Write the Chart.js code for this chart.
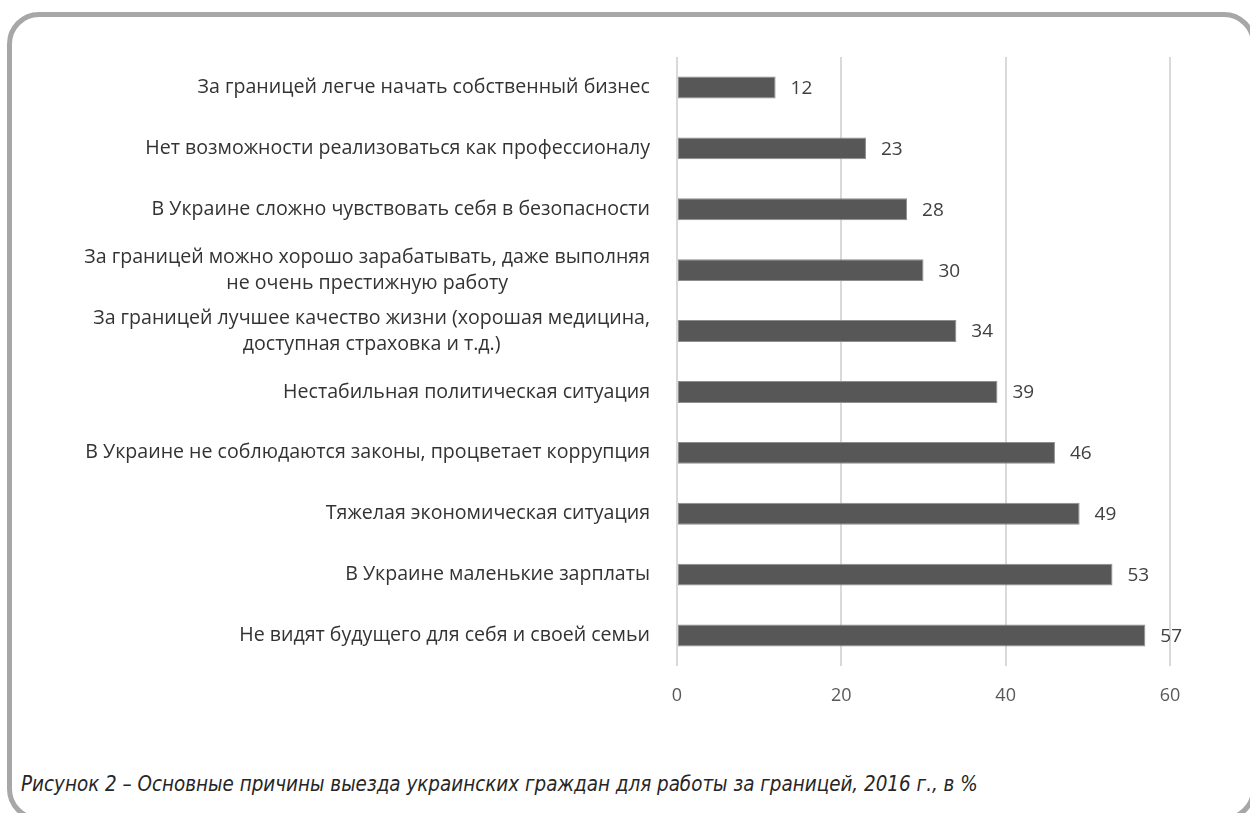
<!DOCTYPE html>
<html>
<head>
<meta charset="utf-8">
<script src="https://cdn.jsdelivr.net/npm/chart.js@4.4.0/dist/chart.umd.min.js"></script>
<style>
    html, body { margin: 0; padding: 0; background: #fff; overflow: hidden; }
    body { width: 1250px; height: 813px; position: relative; }
    .frame {
        position: absolute; left: 7px; top: 12px; right: -6px; bottom: -8px;
        border: 5px solid #a7a7a7; border-radius: 32px;
    }
    .wrap { position: absolute; left: 0; top: 0; width: 1250px; height: 740px; }
    .caption {
        position: absolute; left: 21px; top: 772px;
        font-family: 'DejaVu Sans Condensed', sans-serif;
        font-style: italic; font-size: 20.4px; color: #262626; white-space: nowrap;
    }
</style>
</head>
<body>
<div class="frame"></div>
<div class="wrap"><canvas id="chart"></canvas></div>
<div class="caption" id="caption">Рисунок 2 – Основные причины выезда украинских граждан для работы за границей, 2016 г., в %</div>

<script>
// categories top to bottom
const reasons = [
    'За границей легче начать собственный бизнес',
    'Нет возможности реализоваться как профессионалу',
    'В Украине сложно чувствовать себя в безопасности',
    ['За границей можно хорошо зарабатывать, даже выполняя', 'не очень престижную работу'],
    ['За границей лучшее качество жизни (хорошая медицина,', 'доступная страховка и т.д.)'],
    'Нестабильная политическая ситуация',
    'В Украине не соблюдаются законы, процветает коррупция',
    'Тяжелая экономическая ситуация',
    'В Украине маленькие зарплаты',
    'Не видят будущего для себя и своей семьи'
];
const shares = [12, 23, 28, 30, 34, 39, 46, 49, 53, 57];
const xTicks = [0, 20, 40, 60];

const fontFamily = '"Open Sans", Lato, sans-serif';
const labelFont = '19.6px ' + fontFamily;

// category labels: single lines right aligned, wrapped ones centred in their block
const categoryLabels = {
    id: 'categoryLabels',
    afterDraw(chart) {
        const ctx = chart.ctx;
        const y = chart.scales.y;
        const right = chart.chartArea.left - 27;
        ctx.save();
        ctx.font = labelFont;
        ctx.fillStyle = '#333';
        ctx.textBaseline = 'middle';
        reasons.forEach((lab, i) => {
            const cy = y.getPixelForValue(i);
            const lines = Array.isArray(lab) ? lab : [lab];
            const w = Math.max(...lines.map(l => ctx.measureText(l).width));
            ctx.textAlign = 'center';
            lines.forEach((l, k) => {
                ctx.fillText(l, right - w / 2, cy + (k - (lines.length - 1) / 2) * 26);
            });
        });
        ctx.restore();
    }
};

const valueLabels = {
    id: 'valueLabels',
    afterDatasetsDraw(chart) {
        const ctx = chart.ctx;
        const meta = chart.getDatasetMeta(0);
        ctx.save();
        ctx.font = '19px ' + fontFamily;
        ctx.fillStyle = '#404040';
        ctx.textAlign = 'left';
        ctx.textBaseline = 'middle';
        meta.data.forEach((bar, i) => {
            ctx.fillText(shares[i], bar.x + 15, bar.y + 1);
        });
        ctx.restore();
    }
};

new Chart('chart', {
    type: 'bar',
    data: {
        labels: reasons,
        datasets: [{
            data: shares,
            backgroundColor: '#575757',
            borderColor: '#8e8e8e',
            borderWidth: 1,
            borderSkipped: false,
            categoryPercentage: 1,
            barPercentage: 0.36
        }]
    },
    options: {
        indexAxis: 'y',
        responsive: true,
        maintainAspectRatio: false,
        animation: false,
        layout: { padding: { top: 57, right: 80, left: 0, bottom: 0 } },
        plugins: {
            legend: { display: false },
            tooltip: { enabled: false }
        },
        scales: {
            x: {
                min: 0,
                max: 60,
                afterBuildTicks: s => { s.ticks = xTicks.map(v => ({ value: v })); },
                afterFit: s => { s.height = 74; },
                grid: { color: '#d9d9d9', lineWidth: 2, drawTicks: false },
                border: { display: false },
                ticks: { padding: 19, color: '#595959', font: { family: fontFamily, size: 18 } }
            },
            y: {
                afterFit: s => { s.width = 677; },
                grid: { display: false },
                border: { display: false },
                ticks: { display: false }
            }
        }
    },
    plugins: [categoryLabels, valueLabels]
});
</script>
</body>
</html>
